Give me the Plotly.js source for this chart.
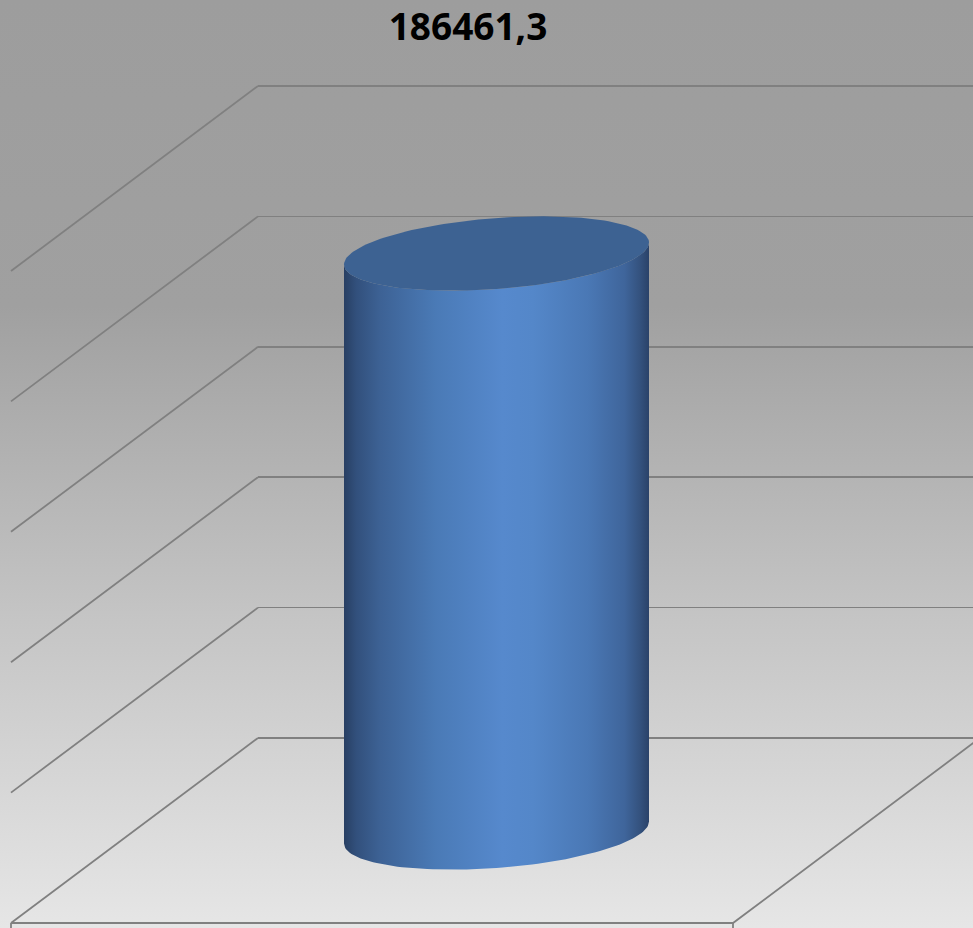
<!DOCTYPE html>
<html>
<head>
<meta charset="utf-8">
<script src="https://cdn.plot.ly/plotly-3.0.1.min.js"></script>
<style>
  html, body { margin: 0; padding: 0; }
  body { width: 973px; height: 928px; overflow: hidden;
         background: linear-gradient(to bottom, #9d9d9d 0%, #a0a0a0 33%, #c4c4c4 66%, #e6e6e6 100%); }
  #chart { width: 973px; height: 928px; }
</style>
</head>
<body>
<div id="chart"></div>
<script>
// ---- data ----
const categories = ['Série 1'];
const values = [186461.3];
const gridTicks = [0, 40000, 80000, 120000, 160000, 200000];
const titleText = '186461,3';

// ---- layout constants (pixels / scales) ----
const W = 973, H = 928;
const pxPerStep = 130.4;                 // back-wall px per 40000
const uGrid = 40000 / pxPerStep;         // value units per px (wall axis)
const wallBasePx = 738;
const gridRange = [-(H - wallBasePx) * uGrid, wallBasePx * uGrid];
const depthDy = 185 * uGrid;             // depth offset (value units)
const backLeftX = 258, frontLeftX = 11, frontRightX = 733, backRightX = 980;

const uCyl = 322.04;                     // value units per px (cylinder axis)
const cylBasePx = 832.5;
const cylRange = [-(H - cylBasePx) * uCyl, cylBasePx * uCyl];
const cylCx = 496.5, cylAx = 152.5, cylAyPx = 11, cylByPx = 35.5;

function ellipse(cy, t0, t1, n) {
  const xs = [], ys = [];
  for (let i = 0; i <= n; i++) {
    const t = t0 + (t1 - t0) * i / n;
    xs.push(cylCx + cylAx * Math.cos(t));
    ys.push(cy + cylAyPx * uCyl * Math.cos(t) - cylByPx * uCyl * Math.sin(t));
  }
  return [xs, ys];
}

const traces = [];
const lineColor = '#808080';
const lineW = 1.8;

// side-wall diagonals from each gridline
const dx = [], dy = [];
gridTicks.forEach(v => { dx.push(backLeftX, frontLeftX, null); dy.push(v, v - depthDy, null); });
traces.push({ x: dx, y: dy, xaxis: 'x', yaxis: 'y', mode: 'lines', type: 'scatter',
  line: { color: lineColor, width: lineW }, hoverinfo: 'skip', showlegend: false });

// floor outline
const base = gridTicks[0];
traces.push({
  x: [frontLeftX, frontRightX, backRightX, null, frontLeftX, frontLeftX, null, frontRightX, frontRightX],
  y: [base - depthDy, base - depthDy, base, null, base - depthDy, base - depthDy - 10 * uGrid, null, base - depthDy, base - depthDy - 10 * uGrid],
  xaxis: 'x', yaxis: 'y', mode: 'lines', type: 'scatter',
  line: { color: lineColor, width: lineW }, hoverinfo: 'skip', showlegend: false });

// invisible trace to activate the back wall subplot
traces.push({ x: [backLeftX], y: [0], xaxis: 'x2', yaxis: 'y2', mode: 'markers', type: 'scatter',
  marker: { opacity: 0 }, hoverinfo: 'skip', showlegend: false });

// cylinder(s)
values.forEach((v, i) => {
  const top = ellipse(v, Math.PI, 0, 80);
  const bot = ellipse(0, 0, Math.PI, 80);
  traces.push({
    x: top[0].concat(bot[0]), y: top[1].concat(bot[1]),
    xaxis: 'x3', yaxis: 'y3', type: 'scatter', mode: 'lines', fill: 'toself',
    line: { width: 0, color: 'rgba(0,0,0,0)' },
    fillgradient: { type: 'horizontal', colorscale: [
      [0, '#283f63'], [0.04, '#32507c'], [0.12, '#3d6295'], [0.3, '#4a7ab6'],
      [0.52, '#5689cd'], [0.62, '#5487c9'], [0.8, '#4a78b5'], [0.92, '#3f659b'],
      [0.97, '#34527e'], [1, '#2a4269'] ] },
    name: categories[i], hoverinfo: 'skip', showlegend: false });
  const cap = ellipse(v, 0, 2 * Math.PI, 160);
  traces.push({ x: cap[0], y: cap[1], xaxis: 'x3', yaxis: 'y3', type: 'scatter', mode: 'lines',
    fill: 'toself', fillcolor: '#3d6292', line: { width: 0, color: 'rgba(0,0,0,0)' },
    hoverinfo: 'skip', showlegend: false });
});

const hiddenX = { range: [0, W], visible: false, fixedrange: true };
const layout = {
  width: W, height: H,
  margin: { l: 0, r: 0, t: 0, b: 0 },
  paper_bgcolor: 'rgba(0,0,0,0)', plot_bgcolor: 'rgba(0,0,0,0)',
  title: { text: '<b>' + titleText + '</b>', x: 468 / W, xanchor: 'center', xref: 'paper',
           y: 1 - 27 / H, yanchor: 'middle', yref: 'paper',
           font: { family: 'Open Sans, Liberation Sans, sans-serif', size: 37, color: '#000000' } },
  xaxis: Object.assign({ domain: [0, 1], anchor: 'y' }, hiddenX),
  yaxis: { domain: [0, 1], anchor: 'x', range: gridRange, visible: false, fixedrange: true },
  xaxis2: { domain: [backLeftX / W, 1], anchor: 'y2', range: [backLeftX, W], visible: false, fixedrange: true },
  yaxis2: { domain: [0, 1], anchor: 'x2', range: gridRange, tickmode: 'array', tickvals: gridTicks,
            showgrid: true, gridcolor: lineColor, gridwidth: lineW, zeroline: false,
            showticklabels: false, ticks: '', showline: false, fixedrange: true },
  xaxis3: Object.assign({ domain: [0, 1], anchor: 'y3' }, hiddenX),
  yaxis3: { domain: [0, 1], anchor: 'x3', range: cylRange, visible: false, fixedrange: true },
  showlegend: false
};

Plotly.newPlot('chart', traces, layout, { displayModeBar: false, staticPlot: true });
</script>
</body>
</html>
